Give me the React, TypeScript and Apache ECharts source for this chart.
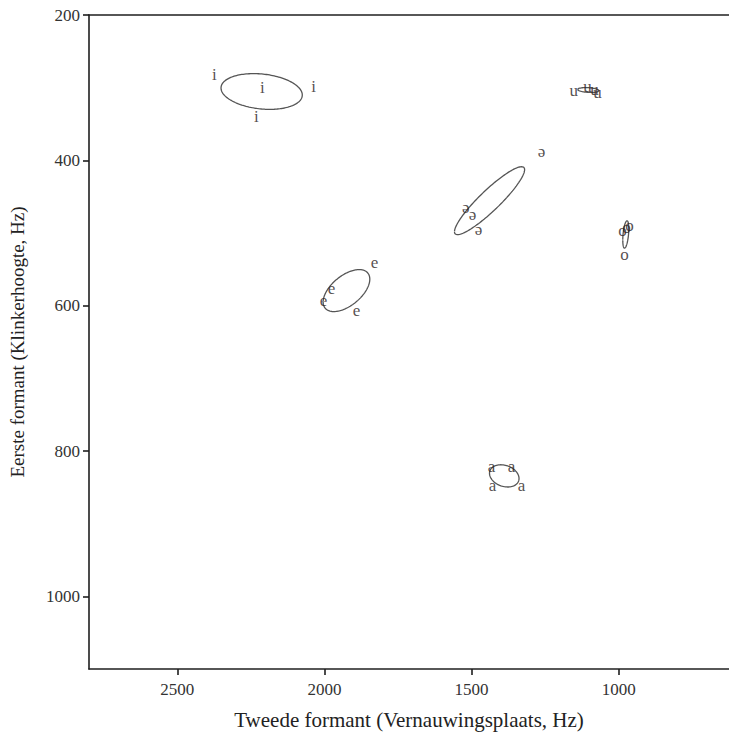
import React, { useEffect, useRef } from "react";
import * as echarts from "echarts";

const iTokens = [[2374, 282], [2211, 300], [2037, 299], [2231, 340]];
const eTokens = [[1830, 540], [1976, 577], [2003, 593], [1891, 607]];
const schwaTokens = [[1262, 388], [1520, 465], [1497, 474], [1476, 495]];
const aTokens = [[1432, 821], [1364, 821], [1429, 847], [1330, 848]];
const oTokens = [[987, 496], [973, 493], [963, 489], [980, 530]];
const uTokens = [[1153, 304], [1106, 299], [1082, 303], [1072, 307]];

const vowelLabels = ["i", "e", "ə", "a", "o", "u"];
const vowelTokens = [iTokens, eTokens, schwaTokens, aTokens, oTokens, uTokens];

const xTicks = [2500, 2000, 1500, 1000];
const yTicks = [200, 400, 600, 800, 1000];
const xRange = [625, 2800];
const yRange = [200, 1100];

const xName = "Tweede formant (Vernauwingsplaats, Hz)";
const yName = "Eerste formant (Klinkerhoogte, Hz)";

const FONT = "'Liberation Serif', 'DejaVu Serif', serif";
const AXIS_COLOR = "#1f1f1f";

// 1-SD ellipse from the sample covariance of the tokens
function sdEllipse(tokens: number[][], steps = 160): number[][] {
  const n = tokens.length;
  const mx = tokens.reduce((s, p) => s + p[0], 0) / n;
  const my = tokens.reduce((s, p) => s + p[1], 0) / n;
  let sxx = 0, syy = 0, sxy = 0;
  tokens.forEach((p) => {
    const dx = p[0] - mx, dy = p[1] - my;
    sxx += dx * dx; syy += dy * dy; sxy += dx * dy;
  });
  sxx /= n - 1; syy /= n - 1; sxy /= n - 1;
  const sx = Math.sqrt(sxx);
  const k = sxy / sx;
  const r = Math.sqrt(Math.max(syy - k * k, 0));
  const pts: number[][] = [];
  for (let i = 0; i <= steps; i++) {
    const t = (2 * Math.PI * i) / steps;
    pts.push([mx + sx * Math.cos(t), my + k * Math.cos(t) + r * Math.sin(t)]);
  }
  return pts;
}

export default function App() {
  const ref = useRef<HTMLDivElement>(null);
  useEffect(() => {
    if (!ref.current) return;
    const chart = echarts.init(ref.current, undefined, { renderer: "svg" });
    const series: any[] = [];
    vowelLabels.forEach((lab, gi) => {
      series.push({
        type: "line",
        data: sdEllipse(vowelTokens[gi]),
        showSymbol: false,
        symbol: "none",
        silent: true,
        smooth: false,
        lineStyle: { color: "#555555", width: 1.3 },
        z: 2,
      });
      series.push({
        type: "scatter",
        data: vowelTokens[gi].map((p) => ({ value: p, name: lab })),
        symbol: "circle",
        symbolSize: 1,
        itemStyle: { color: "rgba(0,0,0,0)" },
        label: {
          show: true,
          position: "inside",
          formatter: lab,
          color: "#2a2222",
          fontFamily: FONT,
          fontSize: 17,
        },
        z: 3,
      });
    });
    const plain = (v: number) => String(v);
    chart.setOption({
      animation: false,
      backgroundColor: "#ffffff",
      grid: { left: 89, right: 0, top: 15, bottom: 64 },
      xAxis: [
        {
          type: "value",
          inverse: true,
          min: xRange[0],
          max: xRange[1],
          position: "bottom",
          name: xName,
          nameLocation: "middle",
          nameGap: 40,
          nameTextStyle: { fontFamily: FONT, fontSize: 21, color: "#222" },
          splitLine: { show: false },
          axisLine: { show: true, lineStyle: { color: AXIS_COLOR, width: 1.6 } },
          axisTick: {
            show: true,
            length: 6,
            customValues: xTicks,
            lineStyle: { color: AXIS_COLOR, width: 1.6 },
          },
          axisLabel: {
            customValues: xTicks,
            formatter: plain,
            margin: 12,
            fontFamily: FONT,
            fontSize: 17,
            color: "#333",
          },
        },
        {
          type: "value",
          inverse: true,
          min: xRange[0],
          max: xRange[1],
          position: "top",
          splitLine: { show: false },
          axisLine: { show: true, lineStyle: { color: AXIS_COLOR, width: 1.6 } },
          axisTick: { show: false },
          axisLabel: { show: false },
        },
      ],
      yAxis: {
        type: "value",
        inverse: true,
        min: yRange[0],
        max: yRange[1],
        name: yName,
        nameLocation: "middle",
        nameGap: 62,
        nameRotate: 90,
        nameTextStyle: { fontFamily: FONT, fontSize: 19, color: "#222" },
        splitLine: { show: false },
        axisLine: { show: true, lineStyle: { color: AXIS_COLOR, width: 1.6 } },
        axisTick: {
          show: true,
          length: 6,
          customValues: yTicks,
          lineStyle: { color: AXIS_COLOR, width: 1.6 },
        },
        axisLabel: {
          customValues: yTicks,
          formatter: plain,
          margin: 9,
          fontFamily: FONT,
          fontSize: 17,
          color: "#333",
        },
      },
      series,
    });
    return () => chart.dispose();
  }, []);
  return (
    <div
      ref={ref}
      style={{ position: "fixed", left: 0, top: 0, width: 729, height: 735 }}
    />
  );
}
